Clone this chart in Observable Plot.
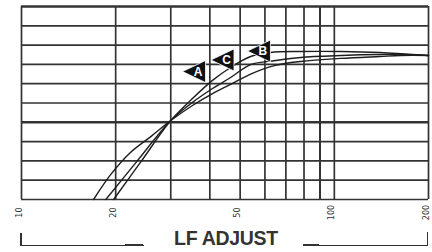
<!DOCTYPE html>
<html>
<head>
<meta charset="utf-8">
<script src="https://cdn.jsdelivr.net/npm/d3@7"></script>
<script src="https://cdn.jsdelivr.net/npm/@observablehq/plot@0.6"></script>
<style>
  html, body { margin: 0; padding: 0; background: #fff; }
  #wrap { position: relative; width: 432px; height: 252px; overflow: hidden; }
  #chart { position: absolute; left: 0; top: 0; }
  .seg { position: absolute; background: #333; }
  #title { position: absolute; left: 0; width: 452px; top: 227px; text-align: center;
           font: bold 19.5px "Liberation Sans", Arial, sans-serif; color: #333; letter-spacing: -0.3px; }
</style>
</head>
<body>
<div id="wrap">
  <div id="chart"></div>
  <div class="seg" style="left:20px;top:233px;width:1.5px;height:13px"></div>
  <div class="seg" style="left:20px;top:244.5px;width:124px;height:1.2px"></div>
  <div class="seg" style="left:125px;top:243.5px;width:18px;height:2.6px"></div>
  <div class="seg" style="left:303px;top:243.5px;width:16px;height:2.6px"></div>
  <div class="seg" style="left:303px;top:244.5px;width:125px;height:1.2px"></div>
  <div class="seg" style="left:426.5px;top:232px;width:1.5px;height:14px"></div>
  <div id="title">LF ADJUST</div>
</div>
<script>
// ---- data ----
const freqGrid = [10, 20, 30, 40, 50, 60, 70, 80, 90, 100, 200];
const levelGrid = [0, 1, 2, 3, 4, 5, 6, 7, 8, 9, 10];
const tickLabels = [10, 20, 50, 100, 200];

const curveNames = ["A", "B", "C"];
const freqA = [17.0, 19.3, 22.3, 25.9, 30.0, 35.2, 40.8, 46.6, 54.0, 64.9, 78, 105, 140, 163, 200];
const levelA = [0, 1.30, 2.44, 3.26, 4.09, 4.87, 5.49, 5.96, 6.50, 6.95, 7.15, 7.31, 7.41, 7.46, 7.46];
const freqB = [19.7, 24.0, 30.0, 35.2, 40.8, 46.6, 54.0, 62.5, 78, 105, 140, 163, 200];
const levelB = [0, 1.92, 4.09, 5.23, 6.17, 6.84, 7.41, 7.62, 7.67, 7.67, 7.62, 7.56, 7.46];
const freqC = [18.6, 23.1, 30.0, 35.2, 40.8, 46.6, 54.0, 64.9, 78, 105, 140, 163, 200];
const levelC = [0, 1.87, 4.09, 5.03, 5.75, 6.32, 6.99, 7.20, 7.36, 7.46, 7.51, 7.51, 7.46];

const markerLabels = ["A", "C", "B"];
const markerFreq = [35.6, 43.9, 57.4];
const markerLevel = [6.63, 7.23, 7.69];

// ---- build tables ----
const curves = [];
[[freqA, levelA, "A"], [freqB, levelB, "B"], [freqC, levelC, "C"]].forEach(([f, l, n]) => {
  f.forEach((v, i) => curves.push({freq: v, level: l[i], curve: n}));
});
const markers = markerLabels.map((m, i) => ({label: m, freq: markerFreq[i], level: markerLevel[i]}));

const leftTriangle = {
  draw(ctx, size) {
    const r = Math.sqrt(size / Math.PI);
    ctx.moveTo(-r * 1.2, 0);
    ctx.lineTo(r * 1.2, -r * 1.15);
    ctx.lineTo(r * 1.2, r * 1.15);
    ctx.closePath();
  }
};

const gridColor = "#333";
const chart = Plot.plot({
  width: 432,
  height: 226,
  marginLeft: 21,
  marginRight: 4,
  marginTop: 6,
  marginBottom: 27,
  style: {background: "#fff", overflow: "visible"},
  x: {type: "log", domain: [10, 200], axis: null},
  y: {domain: [0, 10], axis: null},
  marks: [
    Plot.ruleX(freqGrid, {x: d => d, stroke: gridColor, strokeWidth: d => (d === 90 ? 2 : 1.7)}),
    Plot.ruleY(levelGrid, {y: d => d, stroke: gridColor, strokeWidth: d => (d === 4 || d === 10 ? 2.4 : 1.7)}),
    Plot.line(curves, {x: "freq", y: "level", z: "curve", stroke: "#1e1e1e", strokeWidth: 1.4, curve: "catmull-rom"}),
    Plot.dot(markers, {x: "freq", y: "level", symbol: leftTriangle, r: 9.6, fill: "#111", stroke: "#fff", strokeWidth: 0.8}),
    Plot.text(markers, {x: "freq", y: "level", text: "label", dx: 4, dy: 0.5, fill: "#fff",
      fontSize: 12, fontWeight: "bold", fontFamily: "Liberation Sans, Arial, sans-serif"}),
    Plot.text(tickLabels, {x: d => d, frameAnchor: "bottom", dy: 13, rotate: -90, text: d => String(d),
      textAnchor: "middle", fontSize: 9, fill: "#333", fontFamily: "DejaVu Sans Condensed, Liberation Sans Narrow, sans-serif"})
  ]
});
document.getElementById("chart").appendChild(chart);
</script>
</body>
</html>
